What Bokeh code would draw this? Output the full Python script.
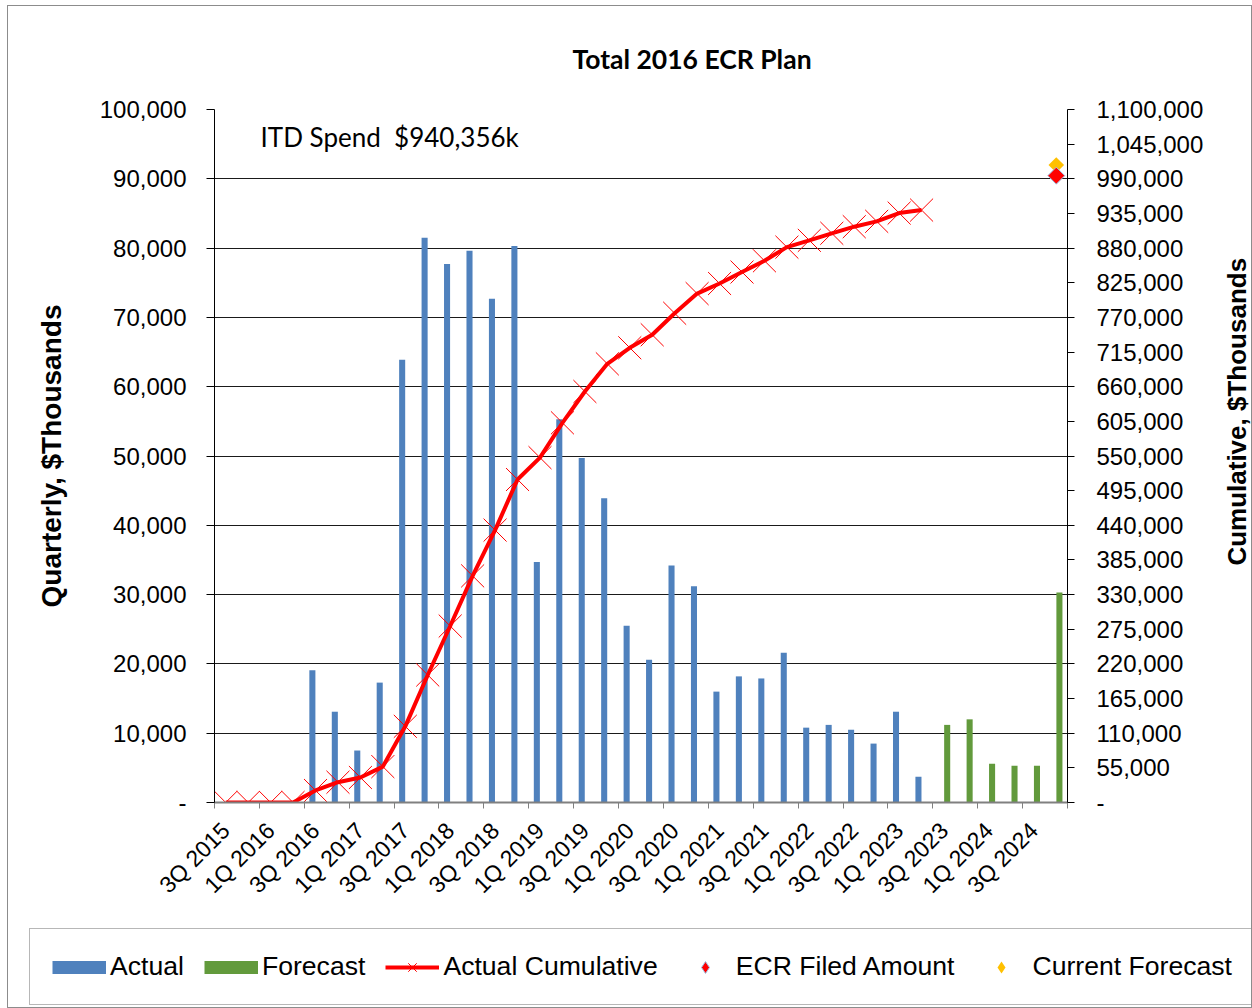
import math
from bokeh.plotting import figure
from bokeh.layouts import column, row
from bokeh.models import (Range1d, LinearAxis, FixedTicker, Label, Legend, LegendItem,
                          CustomJSTickFormatter)
from bokeh.embed import file_html
from bokeh.resources import INLINE

# ---------------- data ----------------
quarters = ["3Q 2015", "4Q 2015", "1Q 2016", "2Q 2016", "3Q 2016", "4Q 2016",
            "1Q 2017", "2Q 2017", "3Q 2017", "4Q 2017", "1Q 2018", "2Q 2018",
            "3Q 2018", "4Q 2018", "1Q 2019", "2Q 2019", "3Q 2019", "4Q 2019",
            "1Q 2020", "2Q 2020", "3Q 2020", "4Q 2020", "1Q 2021", "2Q 2021",
            "3Q 2021", "4Q 2021", "1Q 2022", "2Q 2022", "3Q 2022", "4Q 2022",
            "1Q 2023", "2Q 2023", "3Q 2023", "4Q 2023", "1Q 2024", "2Q 2024",
            "3Q 2024", "4Q 2024"]

actual_quarters = quarters[0:32]
actual = [0, 0, 0, 0, 19100, 13100, 7500, 17300, 63900, 81500, 77700, 79600,
          72700, 80300, 34700, 55300, 49700, 43900, 25500, 20600, 34200, 31200,
          16000, 18200, 17900, 21600, 10800, 11200, 10500, 8500, 13100, 3700]

forecast_quarters = quarters[32:38]
forecast = [11200, 12000, 5600, 5300, 5300, 30300]

cumulative = [0, 0, 0, 0, 19100, 32200, 39700, 57000, 120900, 202400, 280100,
              359700, 432400, 512700, 547400, 602700, 652400, 696300, 721800,
              742400, 776600, 807800, 823800, 842000, 859900, 881500, 892300,
              903500, 914000, 922500, 935600, 940356]

ecr_quarter = ["4Q 2024"]
ecr_filed = [995000]
current_forecast = [1012000]

left_ticks = [0, 10000, 20000, 30000, 40000, 50000, 60000, 70000, 80000, 90000, 100000]
right_ticks = [0, 55000, 110000, 165000, 220000, 275000, 330000, 385000, 440000,
               495000, 550000, 605000, 660000, 715000, 770000, 825000, 880000,
               935000, 990000, 1045000, 1100000]

series_names = ["Actual", "Forecast", "Actual Cumulative", "ECR Filed Amount",
                "Current Forecast"]
title_text = "Total 2016 ECR Plan"
itd_text = "ITD Spend \u00a0$940,356k"
left_title = "Quarterly, $Thousands"
right_title = "Cumulative, $Thousands"

# ---------------- helpers ----------------
pos = {q: i for i, q in enumerate(quarters)}
x_act = [pos[q] - 0.14 for q in actual_quarters]
x_fc = [pos[q] + 0.14 for q in forecast_quarters]
x_cum = [pos[q] for q in actual_quarters]
x_ecr = [pos[q] for q in ecr_quarter]

BLUE = "#4F81BD"
GREEN = "#629A3C"
YELLOW = "#FFC000"
FONT = "Liberation Sans"
NAN = float("nan")

X_MIN, X_MAX = -0.5, len(quarters) - 0.5
CUM_MAX = 1100000
FRAME_W, FRAME_H = 853, 694      # plot-area size in px
ARM = 11.5                       # half size of the "x" markers in px

p = figure(width=1213, height=921, output_backend="svg", toolbar_location=None,
           x_range=Range1d(X_MIN, X_MAX), y_range=Range1d(0, 100000),
           min_border_left=206, min_border_right=154, min_border_top=102,
           min_border_bottom=125)
p.outline_line_color = None
p.background_fill_color = "white"
p.border_fill_color = "white"
p.extra_y_ranges = {"cum": Range1d(0, CUM_MAX)}

# title
p.title.text = title_text
p.title.align = "left"
p.title.offset = 358
p.title.text_font = "Lato"
p.title.text_font_style = "bold"
p.title.text_font_size = "26.5px"
p.title.text_color = "black"
p.title.standoff = 69

# grid
p.xgrid.visible = False
p.ygrid.ticker = FixedTicker(ticks=left_ticks)
p.ygrid.grid_line_color = "#1a1a1a"
p.ygrid.grid_line_width = 1

# x axis
xa = p.xaxis[0]
xa.ticker = FixedTicker(ticks=list(range(0, 38, 2)),
                        minor_ticks=[i - 0.5 for i in range(0, 39, 2)])
xa.formatter = CustomJSTickFormatter(args=dict(labels=quarters),
                                     code="const i = Math.round(tick); return (i >= 0 && i < labels.length) ? labels[i] : '';")
xa.major_label_orientation = math.pi / 4
xa.major_tick_out = 0
xa.major_tick_in = 0
xa.minor_tick_out = 6
xa.minor_tick_in = 0
xa.minor_tick_line_color = "#808080"
xa.axis_line_color = "#808080"
xa.axis_line_width = 2
xa.major_label_text_font = FONT
xa.major_label_text_font_size = "23px"
xa.major_label_text_color = "black"
xa.major_label_standoff = 18

fmt_code = "return tick == 0 ? '-' : Math.round(tick).toLocaleString('en-US');"

ya = p.yaxis[0]
ya.ticker = FixedTicker(ticks=left_ticks)
ya.formatter = CustomJSTickFormatter(code=fmt_code)
ya.major_tick_out = 8
ya.major_tick_in = 0
ya.minor_tick_out = 0
ya.minor_tick_in = 0
ya.axis_line_color = "black"
ya.major_tick_line_color = "black"
ya.major_label_text_font = FONT
ya.major_label_text_font_size = "24px"
ya.major_label_text_color = "black"
ya.major_label_standoff = 20
ya.axis_label = left_title
ya.axis_label_text_font = FONT
ya.axis_label_text_font_style = "bold"
ya.axis_label_text_font_size = "28px"
ya.axis_label_text_color = "black"
ya.axis_label_standoff = 30

ra = LinearAxis(y_range_name="cum", ticker=FixedTicker(ticks=right_ticks),
                formatter=CustomJSTickFormatter(code=fmt_code))
ra.major_tick_out = 7
ra.major_tick_in = 0
ra.minor_tick_out = 0
ra.minor_tick_in = 0
ra.axis_line_color = "black"
ra.major_tick_line_color = "black"
ra.major_label_text_font = FONT
ra.major_label_text_font_size = "24px"
ra.major_label_text_color = "black"
ra.major_label_standoff = 22
p.add_layout(ra, "right")

# ---------------- glyphs ----------------
r_act = p.vbar(x=x_act, top=actual, width=0.27, fill_color=BLUE, line_color=None)
r_fc = p.vbar(x=x_fc, top=forecast, width=0.27, fill_color=GREEN, line_color=None)

r_line = p.line(x=x_cum, y=cumulative, line_color="red", line_width=4,
                y_range_name="cum")

# "x" markers of the cumulative series, drawn as thin crossing strokes
dx = ARM * (X_MAX - X_MIN) / FRAME_W
dy = ARM * CUM_MAX / FRAME_H
x_arms = [[x - dx, x + dx] for x in x_cum] * 2
y_arms = ([[y - dy, y + dy] for y in cumulative] +
          [[y + dy, y - dy] for y in cumulative])
r_x = p.multi_line(xs=x_arms, ys=y_arms, line_color="#FF0000", line_width=1,
                   y_range_name="cum")

r_cur = p.scatter(x=x_ecr, y=current_forecast, marker="square", angle=math.pi / 4,
                  size=11, fill_color=YELLOW, line_color=None, y_range_name="cum")
r_ecr = p.scatter(x=x_ecr, y=ecr_filed, marker="square", angle=math.pi / 4,
                  size=12, fill_color="red", line_color="#9DC3E6", line_width=1,
                  y_range_name="cum")

p.add_layout(Label(x=1.55, y=96100, text=itd_text, text_font="Lato",
                   text_font_size="26px", text_align="left",
                   text_baseline="alphabetic", text_color="black"))

# ---------------- right axis title strip ----------------
pr = figure(width=30, height=921, output_backend="svg", toolbar_location=None,
            x_axis_location=None, y_axis_location=None,
            min_border_left=0, min_border_right=0, min_border_top=0,
            min_border_bottom=0, x_range=Range1d(0, 1), y_range=Range1d(0, 1))
pr.outline_line_color = None
pr.background_fill_color = "white"
pr.border_fill_color = "white"
pr.xgrid.visible = False
pr.ygrid.visible = False
pr.add_layout(Label(x=0.5, y=0.56, text=right_title, text_font=FONT,
                    text_font_style="bold", text_font_size="26px",
                    text_align="center", text_baseline="middle",
                    angle=math.pi / 2, text_color="black"))

# ---------------- legend strip ----------------
pl = figure(width=1243, height=80, output_backend="svg", toolbar_location=None,
            x_axis_location=None, y_axis_location=None,
            min_border_left=0, min_border_right=0, min_border_top=0,
            min_border_bottom=0, x_range=Range1d(0, 1), y_range=Range1d(0, 1))
pl.outline_line_color = None
pl.background_fill_color = "white"
pl.border_fill_color = "white"
pl.xgrid.visible = False
pl.ygrid.visible = False

# legend proxies (no visible data)
l_act = pl.line(x=[NAN], y=[NAN], line_color=BLUE, line_width=13, line_cap="butt")
l_fc = pl.line(x=[NAN], y=[NAN], line_color=GREEN, line_width=13, line_cap="butt")
l_cum = pl.line(x=[NAN], y=[NAN], line_color="red", line_width=4)
l_cx = pl.scatter(x=[NAN], y=[NAN], marker="x", line_color="red", line_width=1)
l_ecr = pl.scatter(x=[NAN], y=[NAN], marker="diamond", fill_color="red",
                   line_color="#9DC3E6", line_width=1)
l_cur = pl.scatter(x=[NAN], y=[NAN], marker="diamond", fill_color=YELLOW,
                   line_color=None)

legend = Legend(items=[
    LegendItem(label=series_names[0], renderers=[l_act]),
    LegendItem(label=series_names[1], renderers=[l_fc]),
    LegendItem(label=series_names[2], renderers=[l_cum, l_cx]),
    LegendItem(label=series_names[3], renderers=[l_ecr]),
    LegendItem(label=series_names[4], renderers=[l_cur]),
], orientation="horizontal", location=(21, 2))
legend.label_text_font = FONT
legend.label_text_font_size = "26.6px"
legend.label_text_color = "black"
legend.glyph_width = 54
legend.glyph_height = 30
legend.label_standoff = 4
legend.spacing = 20
legend.padding = 22
legend.margin = 0
legend.label_height = 30
legend.border_line_color = "#6F6F6F"
legend.border_line_width = 1
legend.background_fill_color = "white"
legend.background_fill_alpha = 1
pl.add_layout(legend)

for fig in (p, pr, pl):
    if "frame_align" in fig.properties():
        fig.frame_align = False

lay = column(row(p, pr, spacing=0), pl, spacing=0)
lay.styles = {"border": "1px solid #8c8c8c", "margin": "5px 0px 0px 7px"}

open("out.html", "w").write(file_html(lay, INLINE))
